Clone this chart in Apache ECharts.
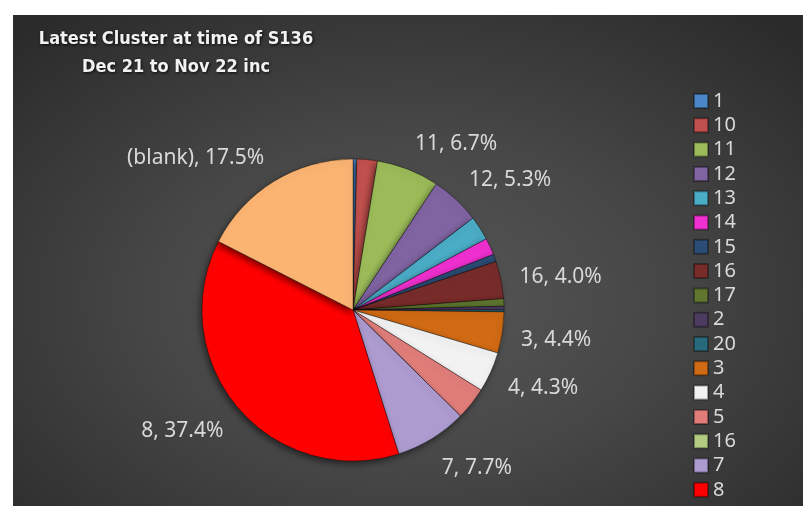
<!DOCTYPE html>
<html>
<head>
<meta charset="utf-8">
<script src="https://cdn.jsdelivr.net/npm/echarts@6/dist/echarts.min.js"></script>
<style>
  html, body { margin: 0; padding: 0; background: #fff; }
  #chart {
    position: absolute; left: 13px; top: 15px; width: 790px; height: 491px;
    background: radial-gradient(ellipse 70% 75% at 50% 58%, #575757 0%, #474747 45%, #2b2b2b 100%);
  }
</style>
</head>
<body>
<div id="chart"></div>
<script>
// cluster names in slice order (second "16" is a separate entry in the source)
const clusters = ['1', '10', '11', '12', '13', '14', '15', '16', '17', '2', '20', '3', '4', '5', '16 ', '7', '8', '(blank)']
// share of total, %
const shares = [0.4, 2.2, 6.7, 5.3, 2.6, 1.8, 0.8, 4.0, 0.8, 0.4, 0.2, 4.4, 4.3, 3.5, 0, 7.7, 37.4, 17.5]
const colours = ['#4a86c8', '#c0504d', '#9bbb59', '#8064a2', '#4bacc6', '#f030d0', '#2c4d75', '#772c2a', '#5f7530',
  '#4d3b62', '#276a7c', '#d06a14', '#f2f2f2', '#e07d79', '#b3cc82', '#ad9bd0', '#ff0000', '#fbb472']
// only these slices carry a data label
const labelled = ['11', '12', '16', '3', '4', '7', '8', '(blank)']
// legend leaves out (blank)
const legendNames = clusters.filter((n) => n !== '(blank)')

const pieCenter = [340, 295]
const pieRadius = 151

const chart = echarts.init(document.getElementById('chart'))

const pieData = clusters.map((name, i) => ({
  name: name,
  value: shares[i],
  itemStyle: { color: colours[i] },
  label: { show: labelled.indexOf(name) >= 0 }
}))

// mid angle of every slice, clockwise from 12 o'clock
const total = shares.reduce((a, b) => a + b, 0)
const midAngles = []
let acc = 0
shares.forEach((v) => {
  midAngles.push((acc + v / 2) / total * Math.PI * 2)
  acc += v
})

// excel style "outside end": box sits just beyond the rim on the slice's mid ray
function placeLabel(params) {
  const a = midAngles[params.dataIndex]
  const dx = Math.sin(a)
  const dy = -Math.cos(a)
  const d = pieRadius + 19
  const w = params.labelRect.width
  const h = params.labelRect.height
  return {
    x: pieCenter[0] + dx * d + (dx >= 0 ? 1 : -1) * w / 2,
    y: pieCenter[1] + dy * d + dy * h / 2 + 3,
    align: 'center',
    verticalAlign: 'middle'
  }
}

chart.setOption({
  animation: false,
  title: {
    text: 'Latest Cluster at time of S136\nDec 21 to Nov 22 inc',
    left: 158,
    top: 5,
    textAlign: 'center',
    textStyle: {
      fontFamily: 'DejaVu Sans Condensed',
      fontWeight: 'bold',
      fontSize: 18,
      color: '#f2f2f2',
      lineHeight: 28,
      textShadowColor: 'rgba(0,0,0,0.8)',
      textShadowBlur: 3,
      textShadowOffsetX: 1,
      textShadowOffsetY: 1
    }
  },
  legend: {
    orient: 'vertical',
    left: 675,
    top: 71,
    height: 440,
    itemWidth: 14,
    itemHeight: 14,
    itemGap: 4.3,
    icon: 'rect',
    data: legendNames,
    textStyle: { color: '#d9d9d9', fontSize: 20, lineHeight: 20, fontFamily: 'Noto Sans' }
  },
  series: [{
    type: 'pie',
    center: pieCenter,
    radius: pieRadius,
    startAngle: 90,
    clockwise: true,
    data: pieData,
    itemStyle: {
      borderColor: 'rgba(0,0,0,0.35)',
      borderWidth: 1,
      shadowColor: 'rgba(0,0,0,0.5)',
      shadowBlur: 6,
      shadowOffsetX: -2,
      shadowOffsetY: 3
    },
    label: {
      position: 'outside',
      color: '#d9d9d9',
      fontSize: 21,
      lineHeight: 24,
      fontFamily: 'Noto Sans',
      formatter: (p) => p.name.trim() + ', ' + p.value.toFixed(1) + '%'
    },
    labelLine: { show: false },
    labelLayout: placeLabel,
    emphasis: { disabled: true }
  }]
})
</script>
</body>
</html>
